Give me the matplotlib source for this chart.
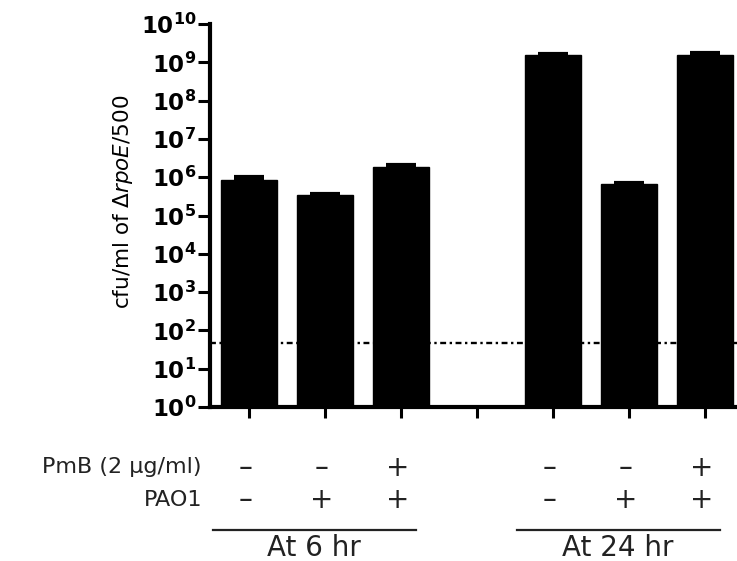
import numpy as np
import matplotlib
matplotlib.use("Agg")
import matplotlib.pyplot as plt
from matplotlib.ticker import FixedLocator, NullLocator
import matplotlib.transforms as mtransforms

# bar slots: 0-2 = 6 hr, 3 = empty gap, 4-6 = 24 hr
slots = [0, 1, 2, 3, 4, 5, 6]
bar_pos = [0, 1, 2, 4, 5, 6]
means = [8.5e5, 3.4e5, 1.9e6, 1.52e9, 6.6e5, 1.55e9]
upper = [1.02e6, 3.7e5, 2.05e6, 1.68e9, 7.0e5, 1.72e9]
detect_limit = 47
pmb = ['–', '–', '+', '–', '–', '+']
pao1 = ['–', '+', '+', '–', '+', '+']
row_labels = ['PmB (2 µg/ml)', 'PAO1']
groups = [(0, 2, 'At 6 hr'), (4, 6, 'At 24 hr')]
decades = list(range(0, 11))

plt.rcParams['font.family'] = 'DejaVu Sans'
plt.rcParams['mathtext.fontset'] = 'dejavusans'

fig = plt.figure(figsize=(7.37, 5.61), dpi=100)
ax = fig.add_axes([0.285, 0.2745, 0.715, 0.6825])

means = np.array(means)
upper = np.array(upper)
ax.bar(bar_pos, means, width=0.74, color='black', edgecolor='black', zorder=2)
ax.errorbar(bar_pos, means, yerr=[np.zeros(len(means)), upper - means],
            fmt='none', ecolor='black', elinewidth=2.2, capsize=10.8,
            capthick=3, zorder=3)
ax.axhline(detect_limit, color='black', lw=1.7,
           linestyle=(0, (2.5, 1.5, 1, 1.5)), zorder=1)

ax.set_yscale('log')
ax.set_ylim(1, 1e10)
ax.set_xlim(-0.513, 6.42)
ax.yaxis.set_major_locator(FixedLocator([10.0 ** d for d in decades]))
ax.yaxis.set_minor_locator(NullLocator())
ax.set_yticklabels([r'$\mathbf{10^{%d}}$' % d for d in decades], fontsize=16.5)
ax.set_xticks(slots)
ax.set_xticklabels([])

for s in ['top', 'right']:
    ax.spines[s].set_visible(False)
for s in ['left', 'bottom']:
    ax.spines[s].set_linewidth(3)
ax.tick_params(axis='y', length=9, width=2.2, pad=1)
ax.tick_params(axis='x', length=8, width=2.2)

ax.set_ylabel(r'cfu/ml of $\Delta\mathit{rpoE}$/500', fontsize=15.5)
ax.yaxis.set_label_coords(-0.143, 0.535)

# condition table under the axis
trans = mtransforms.blended_transform_factory(ax.transData, ax.transAxes)
tcol = '#222222'
for x, a, b in zip(bar_pos, pmb, pao1):
    ax.text(x - 0.05, -0.158, a, transform=trans, ha='center', va='center',
            fontsize=20, color=tcol, clip_on=False)
    ax.text(x - 0.05, -0.242, b, transform=trans, ha='center', va='center',
            fontsize=20, color=tcol, clip_on=False)
ax.text(-0.62, -0.172, row_labels[0], transform=trans, ha='right',
        va='baseline', fontsize=16, color=tcol)
ax.text(-0.62, -0.258, row_labels[1], transform=trans, ha='right',
        va='baseline', fontsize=16, color=tcol)
for first, last, label in groups:
    ax.plot([first - 0.47, last + 0.2], [-0.321, -0.321], transform=trans,
            color=tcol, lw=1.6, clip_on=False)
    ax.text((first + last) / 2 - 0.15, -0.389, label, transform=trans,
            ha='center', va='baseline', fontsize=20, color=tcol)

fig.savefig('out.png', dpi=100)
